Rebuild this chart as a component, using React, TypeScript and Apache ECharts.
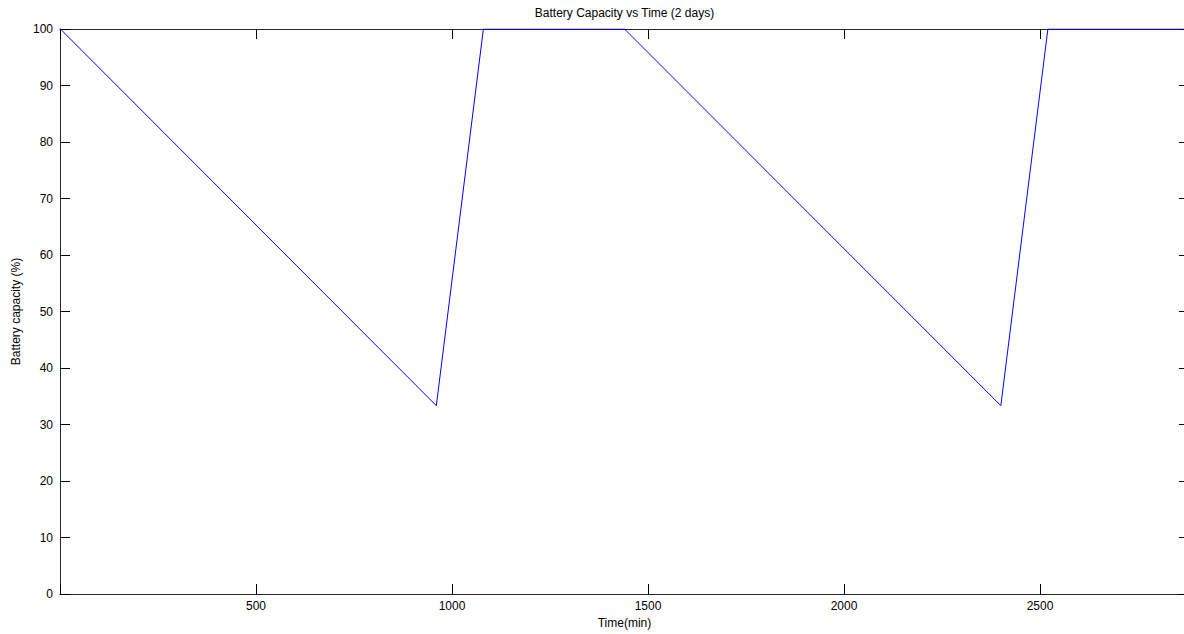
import React, { useEffect, useRef } from "react";
import * as echarts from "echarts";

const timeMin: number[] = [1, 960, 1080, 1440, 2400, 2520, 2880];
const capacityPct: number[] = [100, 33.33, 100, 100, 33.33, 100, 100];
const xTicks: number[] = [500, 1000, 1500, 2000, 2500];
const titleText = "Battery Capacity vs Time (2 days)";
const xName = "Time(min)";
const yName = "Battery capacity (%)";

const FONT = "Liberation Sans, Arial, sans-serif";
const AXIS_COLOR = "#262626";

export default function App() {
  const ref = useRef<HTMLDivElement>(null);
  useEffect(() => {
    if (!ref.current) return;
    const chart = echarts.init(ref.current, undefined, { renderer: "svg" });
    const tickCommon = { show: true, inside: true, length: 10, lineStyle: { color: "#000", width: 1 } };
    const lineCommon = { show: true, onZero: false, lineStyle: { color: AXIS_COLOR, width: 1 } };
    chart.setOption({
      animation: false,
      backgroundColor: "#fff",
      grid: {
        left: 60,
        width: 1129,
        top: 29,
        height: 565,
        containLabel: false,
        outerBoundsMode: "none",
      },
      xAxis: [
        {
          type: "value",
          position: "bottom",
          min: 0,
          max: 2880,
          interval: 500,
          axisLine: lineCommon,
          axisTick: tickCommon,
          splitLine: { show: false },
          axisLabel: {
            color: "#000",
            fontFamily: FONT,
            fontSize: 12,
            margin: 6,
            formatter: (v: number) => (xTicks.includes(v) ? String(v) : ""),
          },
          name: xName,
          nameLocation: "middle",
          nameGap: 23,
          nameTextStyle: { color: "#000", fontFamily: FONT, fontSize: 12 },
        },
        {
          type: "value",
          position: "top",
          min: 0,
          max: 2880,
          interval: 500,
          axisLine: lineCommon,
          axisTick: tickCommon,
          splitLine: { show: false },
          axisLabel: { show: false },
          name: titleText,
          nameLocation: "middle",
          nameGap: 10,
          nameTextStyle: { color: "#000", fontFamily: FONT, fontSize: 12 },
        },
      ],
      yAxis: [
        {
          type: "value",
          position: "left",
          min: 0,
          max: 100,
          interval: 10,
          axisLine: lineCommon,
          axisTick: tickCommon,
          splitLine: { show: false },
          axisLabel: { color: "#000", fontFamily: FONT, fontSize: 12, margin: 7 },
          name: yName,
          nameLocation: "middle",
          nameGap: 37,
          nameRotate: 90,
          nameTextStyle: { color: "#000", fontFamily: FONT, fontSize: 12 },
        },
        {
          type: "value",
          position: "right",
          min: 0,
          max: 100,
          interval: 10,
          axisLine: lineCommon,
          axisTick: tickCommon,
          splitLine: { show: false },
          axisLabel: { show: false },
        },
      ],
      series: [
        {
          type: "line",
          xAxisIndex: 0,
          yAxisIndex: 0,
          data: timeMin.map((t, i) => [t, capacityPct[i]]),
          showSymbol: false,
          symbol: "none",
          lineStyle: { color: "#0000ff", width: 1 },
          clip: true,
        },
      ],
    });
    return () => chart.dispose();
  }, []);
  return (
    <div
      ref={ref}
      style={{ position: "fixed", left: 0, top: 0, width: 1184, height: 634, background: "#fff" }}
    />
  );
}
